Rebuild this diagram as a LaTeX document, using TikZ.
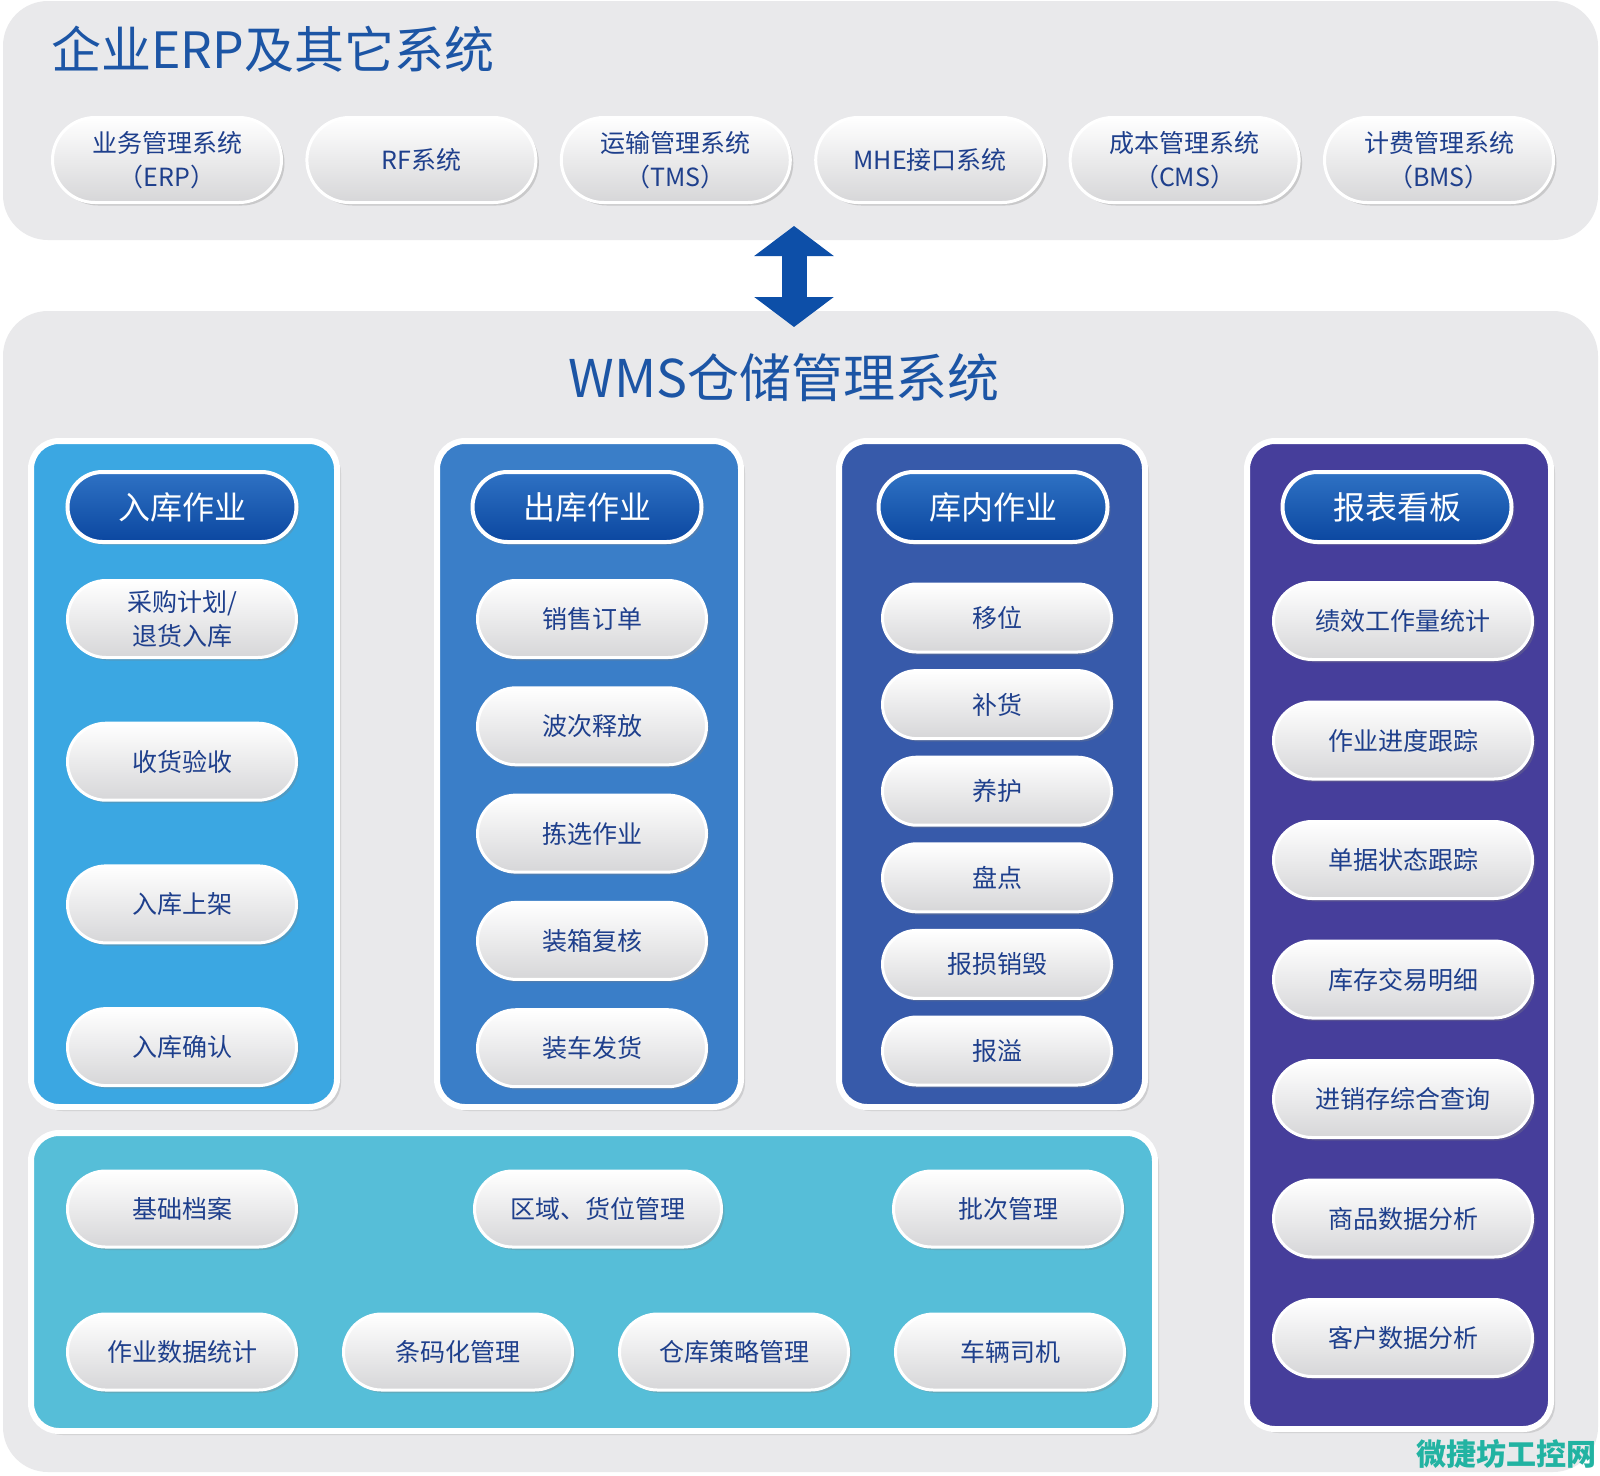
\documentclass[tikz,border=0pt]{standalone}
\usepackage{fontspec}
\setmainfont{Noto Sans CJK SC}
\usetikzlibrary{shapes.misc,shadows,arrows.meta}

\definecolor{panelgray}{HTML}{E9E9EB}
\definecolor{titleblue}{HTML}{1C55A5}
\definecolor{itemblue}{HTML}{1E3F8C}
\definecolor{inblue}{HTML}{3BA7E2}
\definecolor{outblue}{HTML}{3A7EC8}
\definecolor{invblue}{HTML}{375AAA}
\definecolor{repblue}{HTML}{463E9B}
\definecolor{basecyan}{HTML}{56BED8}
\definecolor{headtop}{HTML}{2F72C4}
\definecolor{headbot}{HTML}{0B47A0}
\definecolor{arrowblue}{HTML}{0D4FA8}
\definecolor{pillgray}{HTML}{D6D6D8}
\definecolor{wmgreen}{HTML}{22B3A2}

\tikzset{
  panel/.style={fill=panelgray, rounded corners=45pt},
  colbox/.style={draw=white, line width=6pt, rounded corners=28pt, inner sep=0pt,
    drop shadow={opacity=0.25, shadow xshift=4pt, shadow yshift=-4pt}},
  head/.style={rounded rectangle, minimum width=229pt, minimum height=70pt, inner sep=0pt,
    draw=white, line width=4pt, top color=headtop, bottom color=headbot, text=white,
    font=\fontsize{32pt}{36pt}\selectfont,
    drop shadow={opacity=0.3, shadow xshift=3pt, shadow yshift=-3pt}},
  item/.style={rounded rectangle, minimum width=229pt, minimum height=77pt, inner sep=0pt,
    draw=white, line width=3pt, top color=white, bottom color=pillgray, text=itemblue,
    align=center, font=\fontsize{25pt}{34pt}\selectfont,
    drop shadow={opacity=0.3, shadow xshift=3pt, shadow yshift=-3pt}},
  title/.style={text=titleblue, font=\fontsize{50pt}{56pt}\selectfont, inner sep=0pt}
}

\begin{document}
\begin{tikzpicture}[x=1pt,y=-1pt]
	\useasboundingbox[fill=white] (0,0) rectangle (1600,1475);
	% background panels
	\path[panel] (3,1) rectangle (1598,240);
	\path[panel] (3,311) rectangle (1598,1472);
	\node[title, anchor=west] (erp) at (51,49) {企业ERP及其它系统};
	\node[title, font=\fontsize{52pt}{56pt}\selectfont] (wms) at (784,378) {WMS仓储管理系统};
	
	% outer systems
	\foreach \t [count=\i] in {{业务管理系统\\（ERP）},RF系统,{运输管理系统\\（TMS）},MHE接口系统,{成本管理系统\\（CMS）},{计费管理系统\\（BMS）}}
		\node[item, minimum height=85pt] (sys\i) at ({167+(\i-1)*254.4},160) {\t};
	
	\coordinate (arrtop) at (794,226);
	\coordinate (arrbot) at (794,327);
	\draw[arrowblue, line width=25pt, {Triangle[width=78pt,length=30pt]}-{Triangle[width=78pt,length=30pt]}] (arrtop) -- (arrbot);
	
	% columns
	\node[colbox, fill=inblue, minimum width=306pt, minimum height=666pt] (incol) at (184,774) {};
	\node[colbox, fill=outblue, minimum width=304pt, minimum height=666pt] (outcol) at (589,774) {};
	\node[colbox, fill=invblue, minimum width=306pt, minimum height=666pt] (invcol) at (992,774) {};
	\node[colbox, fill=repblue, minimum width=304pt, minimum height=988pt] (repcol) at (1399,935) {};
	\node[colbox, fill=basecyan, minimum width=1124pt, minimum height=298pt] (basecol) at (593,1282) {};
	
	\node[head] (inhead) at (182,507) {入库作业};
	\node[head] (outhead) at (587,507) {出库作业};
	\node[head] (invhead) at (993,507) {库内作业};
	\node[head] (rephead) at (1397,507) {报表看板};
	
	\foreach \t [count=\i] in {{采购计划/\\退货入库},收货验收,入库上架,入库确认}
		\node[item] (in\i) at (182,{619+(\i-1)*142.7}) {\t};
	\foreach \t [count=\i] in {销售订单,波次释放,拣选作业,装箱复核,装车发货}
		\node[item] (out\i) at (592,{619+(\i-1)*107.3}) {\t};
	\foreach \t [count=\i] in {移位,补货,养护,盘点,报损销毁,报溢}
		\node[item, minimum height=68pt] (inv\i) at (997,{618+(\i-1)*86.6}) {\t};
	\foreach \t [count=\i] in {绩效工作量统计,作业进度跟踪,单据状态跟踪,库存交易明细,进销存综合查询,商品数据分析,客户数据分析}
		\node[item, minimum width=259pt] (rep\i) at (1403,{621+(\i-1)*119.5}) {\t};
	
	% base functions
	\node[item, minimum height=76pt] (base1) at (182,1209) {基础档案};
	\node[item, minimum height=76pt, minimum width=247pt] (base2) at (598,1209) {区域、货位管理};
	\node[item, minimum height=76pt] (base3) at (1008,1209) {批次管理};
	\node[item, minimum height=76pt] (base4) at (182,1352) {作业数据统计};
	\node[item, minimum height=76pt] (base5) at (458,1352) {条码化管理};
	\node[item, minimum height=76pt] (base6) at (734,1352) {仓库策略管理};
	\node[item, minimum height=76pt] (base7) at (1010,1352) {车辆司机};
	
	\node[anchor=east, text=wmgreen, inner sep=0pt, font=\bfseries\fontsize{30pt}{32pt}\selectfont] (mark) at (1597,1454) {微捷坊工控网};
\end{tikzpicture}
\end{document}
